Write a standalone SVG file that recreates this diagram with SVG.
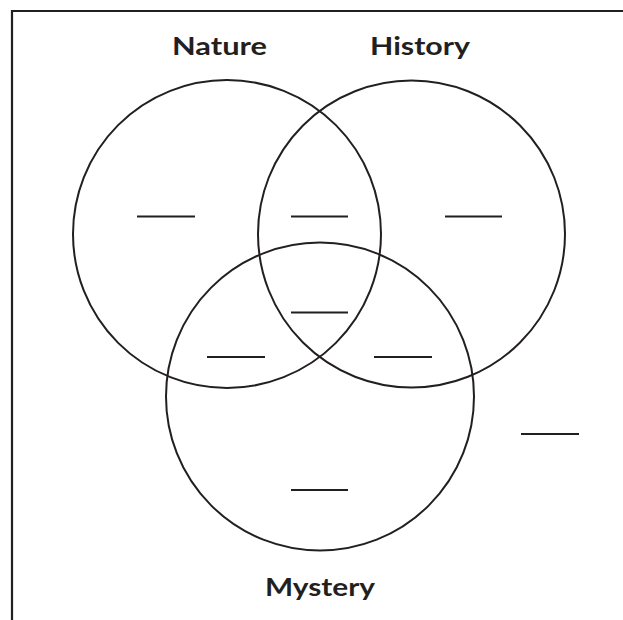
<svg xmlns="http://www.w3.org/2000/svg" width="623" height="620" viewBox="0 0 623 620">
<style>
.c{fill:none;stroke:#231f20;stroke-width:2}
.d{stroke:#231f20;stroke-width:2.2}
.t{font-family:Lato,"Liberation Sans",sans-serif;font-weight:bold;font-size:25px;fill:#231f20}
</style>
<rect width="623" height="620" fill="#fff"/>
<path d="M12,620 V11 H623" fill="none" stroke="#231f20" stroke-width="2.2"/>
<g id="nature"><circle class="c" cx="227" cy="234" r="154"/><text class="t" x="172" y="55" textLength="95" lengthAdjust="spacingAndGlyphs">Nature</text></g>
<g id="history"><circle class="c" cx="411.5" cy="234" r="153.5"/><text class="t" x="370" y="55" textLength="100" lengthAdjust="spacingAndGlyphs">History</text></g>
<g id="mystery"><circle class="c" cx="320" cy="396.5" r="154"/><text class="t" x="265" y="596" textLength="110" lengthAdjust="spacingAndGlyphs">Mystery</text></g>
<g id="connectors">
<line class="d" x1="137" y1="216.5" x2="195" y2="216.5"/>
<line class="d" x1="291" y1="216.5" x2="348" y2="216.5"/>
<line class="d" x1="445" y1="216.5" x2="502" y2="216.5"/>
<line class="d" x1="291" y1="312.5" x2="348" y2="312.5"/>
<line class="d" x1="207" y1="357" x2="265" y2="357"/>
<line class="d" x1="374" y1="357" x2="432" y2="357"/>
<line class="d" x1="291" y1="490" x2="348" y2="490"/>
<line class="d" x1="521" y1="434" x2="579" y2="434"/>
</g>
</svg>
